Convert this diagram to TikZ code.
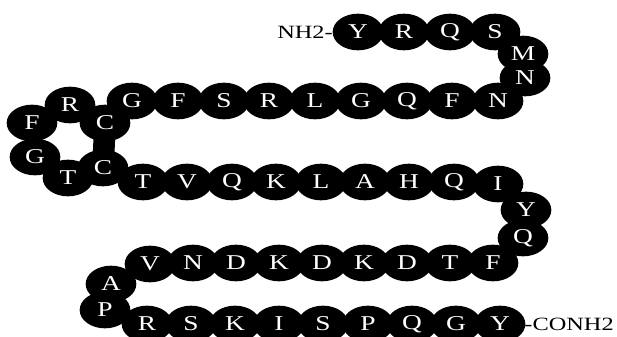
\documentclass[tikz,border=0pt]{standalone}
\usepackage{fontspec}
\setmainfont{Liberation Serif}
\newfontfamily\widefont[FakeStretch=1.3]{Liberation Serif}
\usetikzlibrary{shapes.geometric}

\begin{document}
\begin{tikzpicture}
[x=0.03cm,y=-0.03cm,
bead/.style={ellipse,minimum width=1.52cm,minimum height=1.1cm,inner sep=0pt,fill=black,text=white,font=\widefont\fontsize{18}{18}\selectfont},
bridge/.style={line width=0.65cm},
endLabel/.style={font=\widefont\fontsize{16}{16}\selectfont,inner sep=0pt}]
\useasboundingbox (0,0) rectangle (617,336);
\draw[bridge] (105,123) -- (103,168);
\node[bead] (1) at (358,32) {Y};
\node[bead] (2) at (404,32) {R};
\node[bead] (3) at (450,32) {Q};
\node[bead] (4) at (495,32) {S};
\node[bead] (5) at (523,54) {M};
\node[bead] (6) at (525,78) {N};
\node[bead] (7) at (498,101) {N};
\node[bead] (8) at (452,101) {F};
\node[bead] (9) at (407,101) {Q};
\node[bead] (10) at (361,101) {G};
\node[bead] (11) at (315,101) {L};
\node[bead] (12) at (269,101) {R};
\node[bead] (13) at (224,101) {S};
\node[bead] (14) at (178,101) {F};
\node[bead] (15) at (132,101) {G};
\node[bead] (16) at (105,123) {C};
\node[bead] (17) at (70,105) {R};
\node[bead] (18) at (32,123) {F};
\node[bead] (19) at (35,157) {G};
\node[bead] (20) at (68,178) {T};
\node[bead] (21) at (103,168) {C};
\node[bead] (22) at (143,182) {T};
\node[bead] (23) at (187,182) {V};
\node[bead] (24) at (232,182) {Q};
\node[bead] (25) at (276,182) {K};
\node[bead] (26) at (321,182) {L};
\node[bead] (27) at (365,182) {A};
\node[bead] (28) at (409,182) {H};
\node[bead] (29) at (454,182) {Q};
\node[bead] (30) at (498,184) {I};
\node[bead] (31) at (526,210) {Y};
\node[bead] (32) at (523,238) {Q};
\node[bead] (33) at (493,263) {F};
\node[bead] (34) at (450,263) {T};
\node[bead] (35) at (407,263) {D};
\node[bead] (36) at (364,263) {K};
\node[bead] (37) at (322,263) {D};
\node[bead] (38) at (279,263) {K};
\node[bead] (39) at (236,263) {D};
\node[bead] (40) at (193,263) {N};
\node[bead] (41) at (150,264) {V};
\node[bead] (42) at (111,284) {A};
\node[bead] (43) at (105,310) {P};
\node[bead] (44) at (147,324) {R};
\node[bead] (45) at (191,324) {S};
\node[bead] (46) at (235,324) {K};
\node[bead] (47) at (279,324) {I};
\node[bead] (48) at (323,324) {S};
\node[bead] (49) at (368,324) {P};
\node[bead] (50) at (412,324) {Q};
\node[bead] (51) at (456,324) {G};
\node[bead] (52) at (500,324) {Y};
\node[endLabel,anchor=east] (nterm) at (333,32) {NH2-};
\node[endLabel,anchor=east] (cterm) at (614,324) {-CONH2};
\end{tikzpicture}
\end{document}
